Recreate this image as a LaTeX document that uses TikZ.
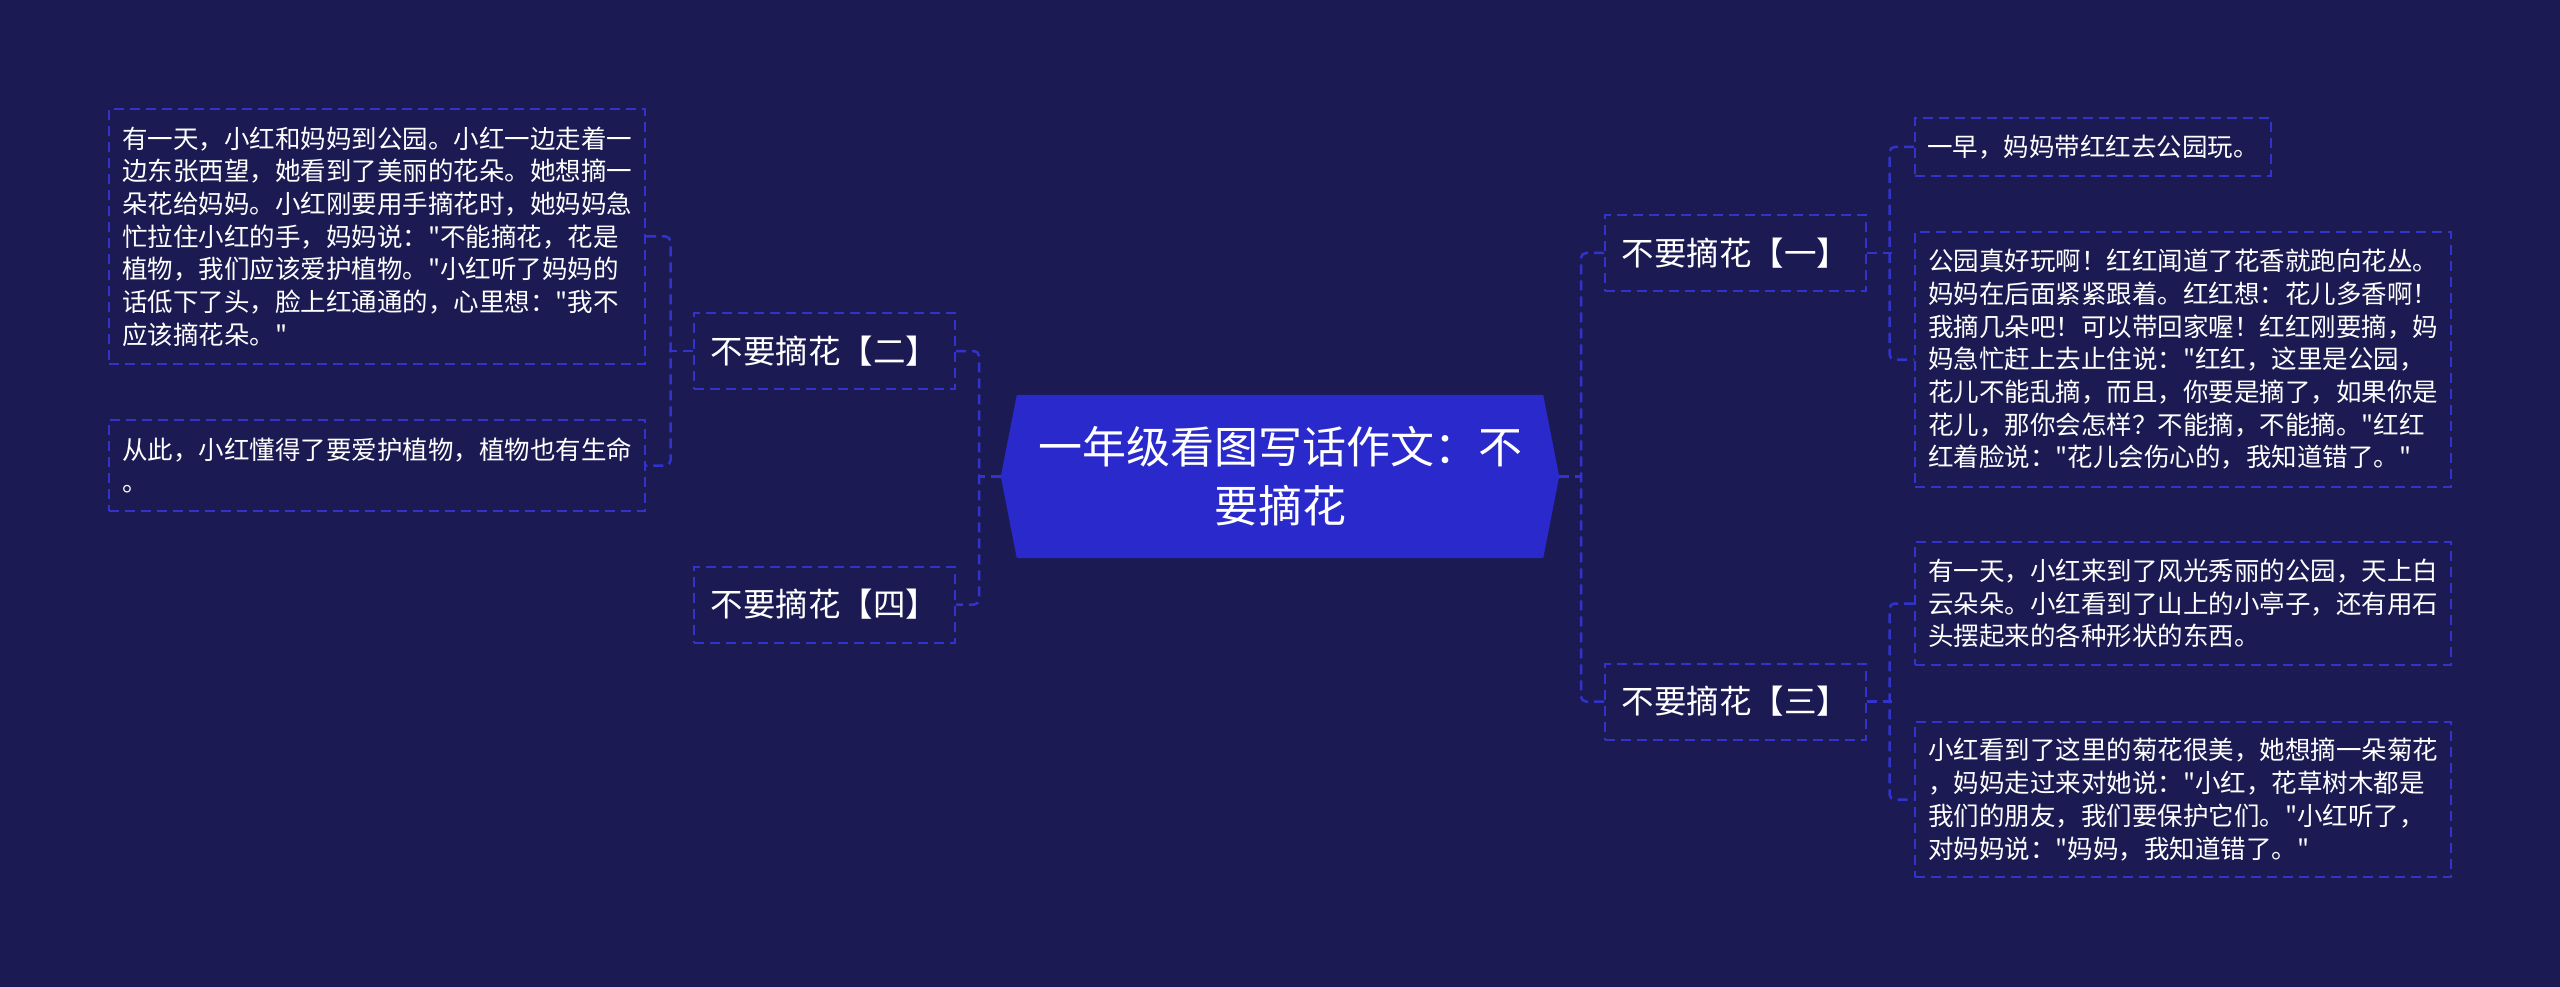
\documentclass[tikz,border=0pt]{standalone}
\usepackage{fontspec}
\setmainfont{Noto Sans CJK SC}[Ligatures=TeXOff]
\usetikzlibrary{calc}
\definecolor{bgc}{RGB}{27,26,82}
\definecolor{hexc}{RGB}{42,42,204}
\definecolor{linec}{RGB}{50,50,205}
\pgfdeclarelayer{bglayer}
\pgfdeclarelayer{hexlayer}
\pgfsetlayers{bglayer,hexlayer,main}
\begin{document}
\begin{tikzpicture}[x=1pt,y=-1pt,
 box/.style={draw=linec, line width=2pt, dash pattern=on 10pt off 6pt, text=white, inner sep=0pt},
 leaf/.style={box, align=left, font=\fontsize{25.5}{32.7}\selectfont},
 topic/.style={box, minimum width=261pt, minimum height=76pt, font=\fontsize{32.5}{38}\selectfont},
 rootnode/.style={minimum width=558pt, minimum height=163pt, inner sep=0pt, text=white, align=center, font=\fontsize{44}{59}\selectfont},
 conn/.style={draw=linec, line width=2.5pt, dash pattern=on 10pt off 6pt, rounded corners=5pt}]
\begin{pgfonlayer}{bglayer}
\fill[bgc] (0,0) rectangle (2560,987);
\end{pgfonlayer}
\useasboundingbox (0,0) rectangle (2560,987);

% root
\node[rootnode] (root) at (1280,476.5) {一年级看图写话作文：不\\要摘花};
\begin{pgfonlayer}{hexlayer}
\fill[hexc] (root.west) -- ([xshift=16pt]root.north west) -- ([xshift=-16pt]root.north east) -- (root.east) -- ([xshift=-16pt]root.south east) -- ([xshift=16pt]root.south west) -- cycle;
\end{pgfonlayer}

% topics
\node[topic] (n1) at (1735.5,253) {不要摘花【一】};
\node[topic] (n3) at (1735.5,701.5) {不要摘花【三】};
\node[topic] (n2) at (824.5,351) {不要摘花【二】};
\node[topic] (n4) at (824.5,604.5) {不要摘花【四】};

% leaves left
\node[leaf, minimum width=536pt, minimum height=255pt] (l1) at (377,236.5) {有一天，小红和妈妈到公园。小红一边走着一\\边东张西望，她看到了美丽的花朵。她想摘一\\朵花给妈妈。小红刚要用手摘花时，她妈妈急\\忙拉住小红的手，妈妈说："不能摘花，花是\\植物，我们应该爱护植物。"小红听了妈妈的\\话低下了头，脸上红通通的，心里想："我不\\应该摘花朵。"};
\node[leaf, minimum width=536pt, minimum height=91pt] (l2) at (377,465.5) {从此，小红懂得了要爱护植物，植物也有生命\\。};

% leaves right
\node[leaf, minimum width=356pt, minimum height=58pt] (r1a) at (2093,147) {一早，妈妈带红红去公园玩。};
\node[leaf, minimum width=536pt, minimum height=255pt] (r1b) at (2183,359.5) {公园真好玩啊！红红闻道了花香就跑向花丛。\\妈妈在后面紧紧跟着。红红想：花儿多香啊！\\我摘几朵吧！可以带回家喔！红红刚要摘，妈\\妈急忙赶上去止住说："红红，这里是公园，\\花儿不能乱摘，而且，你要是摘了，如果你是\\花儿，那你会怎样？不能摘，不能摘。"红红\\红着脸说："花儿会伤心的，我知道错了。"};
\node[leaf, minimum width=536pt, minimum height=123pt] (r3a) at (2183,603.5) {有一天，小红来到了风光秀丽的公园，天上白\\云朵朵。小红看到了山上的小亭子，还有用石\\头摆起来的各种形状的东西。};
\node[leaf, minimum width=536pt, minimum height=155pt] (r3b) at (2183,799.5) {小红看到了这里的菊花很美，她想摘一朵菊花\\，妈妈走过来对她说："小红，花草树木都是\\我们的朋友，我们要保护它们。"小红听了，\\对妈妈说："妈妈，我知道错了。"};

% connectors
\draw[conn] (root.west) -- ++(-23,0);
\draw[conn] (n2.east) -- ++(23,0) |- (n4.east);
\draw[conn] (root.east) -- ++(23,0);
\draw[conn] (n1.west) -- ++(-23,0) |- (n3.west);
\draw[conn] (n1.east) -- ++(24.5,0);
\draw[conn] (r1a.west) -- ++(-24.5,0) |- (r1b.west);
\draw[conn] (n3.east) -- ++(24.5,0);
\draw[conn] (r3a.west) -- ++(-24.5,0) |- (r3b.west);
\draw[conn] (n2.west) -- ++(-24.5,0);
\draw[conn] (l1.east) -- ++(24.5,0) |- (l2.east);
\end{tikzpicture}
\end{document}
